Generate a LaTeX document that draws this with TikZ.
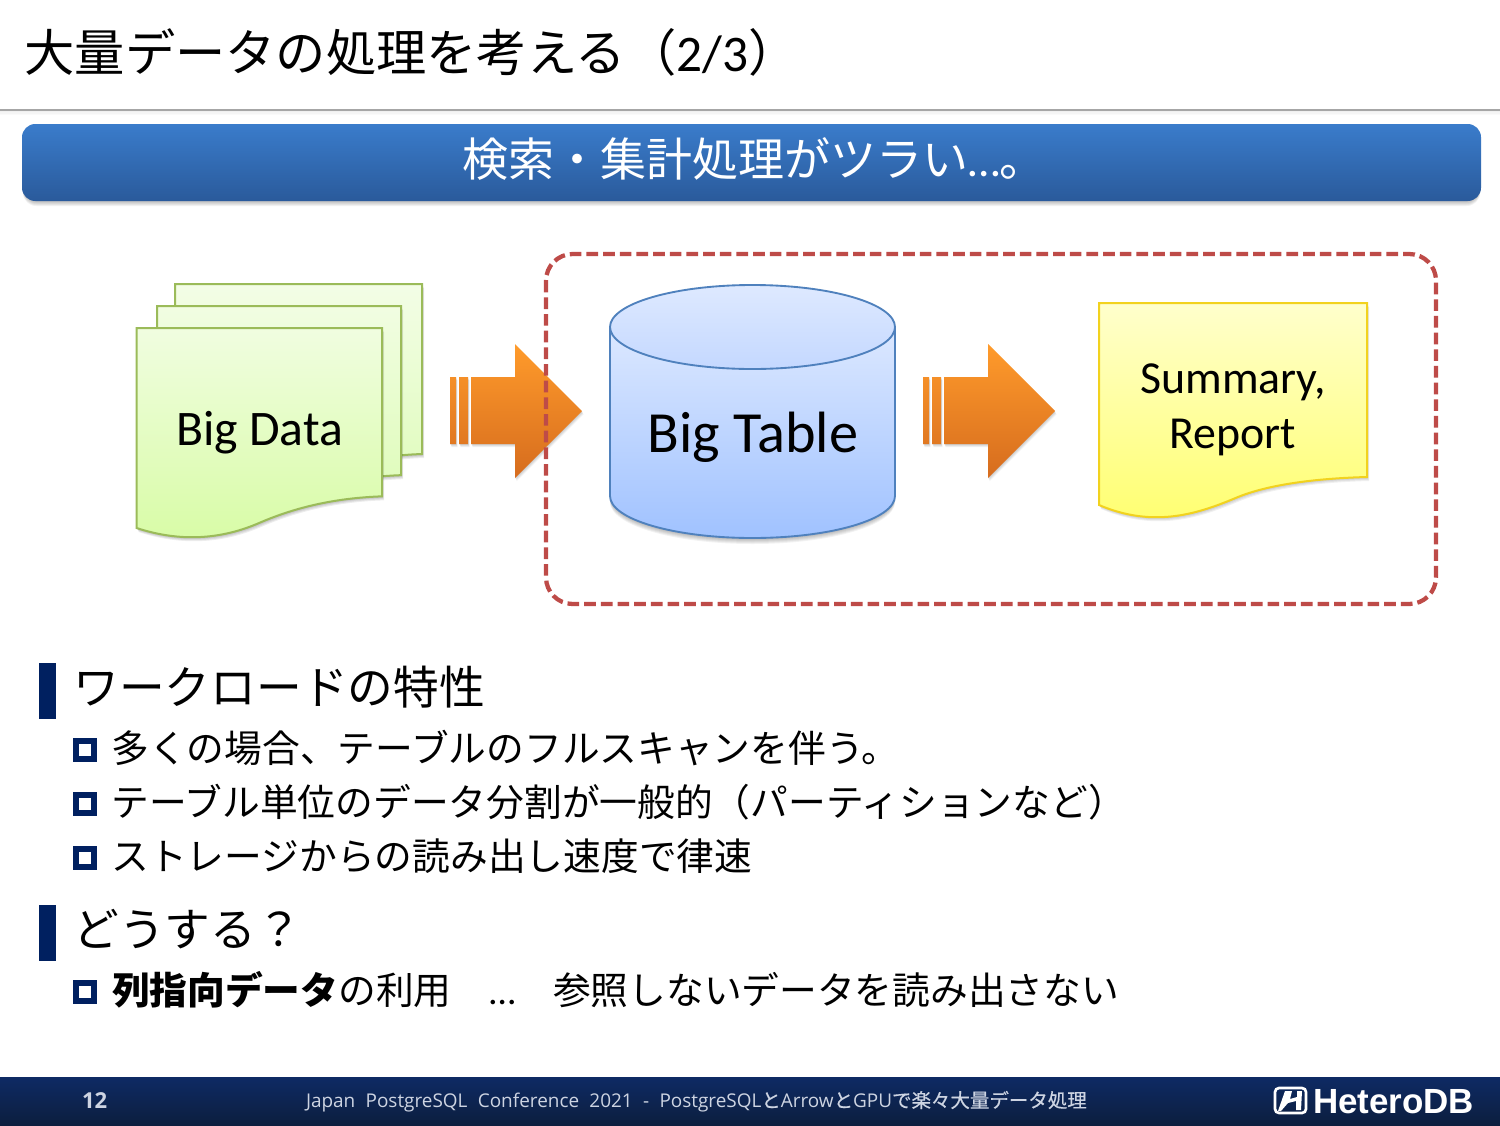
\documentclass[tikz,border=0pt]{standalone}
\usepackage{fontspec}
\setmainfont{Noto Sans CJK JP}
\newfontfamily\cjk{Noto Sans CJK JP}
\newfontfamily\footcjk[FakeBold=0.5]{Noto Sans CJK JP}
\newfontfamily\lat{Carlito}
\newfontfamily\foot[WordSpace=2.1]{Open Sans}
\newfontfamily\logo{Liberation Sans}
\definecolor{navy}{HTML}{002060}
\definecolor{dashred}{HTML}{BE4B48}
\definecolor{grn}{HTML}{9BBB59}
\definecolor{cyl}{HTML}{4F81BD}
\definecolor{foottxt}{RGB}{205,212,226}
\newcommand{\fs}[1]{\fontsize{#1}{#1}\selectfont}
\tikzset{
  txt/.style={anchor=base west,inner sep=0pt,outer sep=0pt,text=black},
  ctr/.style={anchor=base,inner sep=0pt,outer sep=0pt,text=black,align=center},
  bullet/.style={draw=navy,line width=4.6pt,fill=white,minimum width=13.5pt,minimum height=13.5pt,inner sep=0pt,outer sep=0pt,rectangle},
  secbar/.style={fill=navy,draw=none,minimum width=12.75pt,minimum height=42pt,inner sep=0pt,outer sep=0pt,rectangle,anchor=north west},
}
\begin{document}
\begin{tikzpicture}[x=0.75pt,y=-0.75pt]
\useasboundingbox (0,0) rectangle (1500,1125);
\fill[white] (0,0) rectangle (1500,1125);

% header rule
\foreach \d in {1,2,3}{\fill[black,opacity=.02] (0,110) rectangle (1500,111+\d*1.3);}
\draw[color=black!35,line width=1.6pt] (0,110) -- (1500,110);
\node[txt] (title) at (24.5,71) {\fs{37.7}大量データの処理を考える（{\lat\fs{38.5}2/3}）};

% banner
\foreach \d in {1,2,3,4,5}{\fill[black,opacity=.05,rounded corners=10pt] (23,126+\d) rectangle (1480,201+\d);}
\shade[rounded corners=10pt,top color={rgb,255:red,58;green,124;blue,203},bottom color={rgb,255:red,42;green,90;blue,155}] (22,124) rectangle (1481,201);
\node[txt,text=white] (banner) at (462,176.5) {\fs{34.5}検索・集計処理がツラい{\lat\fs{34.5}…}。};

% documents
\newcommand{\docpath}[4]{(#1,#2) -- (#1+#3,#2) -- (#1+#3,#2+#4*0.8333) .. controls (#1+#3*0.85,#2+#4*0.84) and (#1+#3*0.68,#2+#4*0.87) .. (#1+#3*0.5,#2+#4*0.965) .. controls (#1+#3*0.32,#2+#4*1.06) and (#1+#3*0.15,#2+#4*1.05) .. (#1,#2+#4*0.99) -- cycle}
\foreach \d in {1,2,3,4}{\fill[black,opacity=.07,shift={(\d*.5,\d)}] \docpath{175}{284}{247}{204};}
\shade[top color={rgb,255:red,243;green,253;blue,230},bottom color={rgb,255:red,222;green,252;blue,185}] \docpath{175}{284}{247}{204};
\draw[grn,line width=1.5pt] \docpath{175}{284}{247}{204};
\foreach \d in {1,2,3,4}{\fill[black,opacity=.07,shift={(\d*.5,\d)}] \docpath{157}{306}{244}{203};}
\shade[top color={rgb,255:red,241;green,253;blue,226},bottom color={rgb,255:red,220;green,252;blue,180}] \docpath{157}{306}{244}{203};
\draw[grn,line width=1.5pt] \docpath{157}{306}{244}{203};
\foreach \d in {1,2,3,4}{\fill[black,opacity=.07,shift={(\d*.5,\d)}] \docpath{136.5}{328}{245.5}{202};}
\shade[top color={rgb,255:red,240;green,253;blue,224},bottom color={rgb,255:red,216;green,252;blue,166}] \docpath{136.5}{328}{245.5}{202};
\draw[grn,line width=1.5pt] \docpath{136.5}{328}{245.5}{202};
\node[ctr] (bigdata) at (259.5,445.5) {\lat\fs{37.3}Big Data};

% arrows
\newcommand{\arrowpath}[1]{(#1,377) rectangle (#1+6,444) (#1+9,377) rectangle (#1+18,444) (#1+21,377) -- (#1+65,377) -- (#1+65,344) -- (#1+132,411) -- (#1+65,478) -- (#1+65,444) -- (#1+21,444) -- cycle}
\foreach \a in {450,923}{
  \foreach \d in {1,2,3,4}{\fill[black,opacity=.05,shift={(\d*.4,\d*.8)}] \arrowpath{\a};}
  \shade[top color={rgb,255:red,255;green,155;blue,43},bottom color={rgb,255:red,214;green,108;blue,30}] \arrowpath{\a};
}

% cylinder
\foreach \d in {1,...,6}{\fill[black,opacity=.05,shift={(0,\d)}] (610,327) -- (895,327) -- (895,496) arc[start angle=0,end angle=180,x radius=142.5,y radius=42] -- cycle;}
\shade[top color={rgb,255:red,220;green,232;blue,255},bottom color={rgb,255:red,160;green,194;blue,255}] (610,327) -- (895,327) -- (895,496) arc[start angle=0,end angle=180,x radius=142.5,y radius=42] -- cycle;
\draw[cyl,line width=1.4pt] (610,327) -- (610,496) arc[start angle=180,end angle=0,x radius=142.5,y radius=42] -- (895,327);
\shade[top color={rgb,255:red,222;green,233;blue,255},bottom color={rgb,255:red,196;green,216;blue,255}] (752.5,327) ellipse[x radius=142.5,y radius=42];
\draw[cyl,line width=1.4pt] (752.5,327) ellipse[x radius=142.5,y radius=42];
\node[ctr] (bigtable) at (753,452.5) {\lat\fs{43.7}Big Table};

% report
\newcommand{\reportpath}{(1099,303) -- (1367,303) -- (1367,477) .. controls (1330,478) and (1275,482) .. (1238,497) .. controls (1200,513) and (1155,529) .. (1099,505) -- cycle}
\foreach \d in {1,2,3,4}{\fill[black,opacity=.06,shift={(\d*.5,\d)}] \reportpath;}
\shade[top color={rgb,255:red,255;green,255;blue,204},bottom color={rgb,255:red,255;green,255;blue,110}] \reportpath;
\draw[color={rgb,255:red,242;green,210;blue,30},line width=1.5pt] \reportpath;
\node[ctr] (summary) at (1233,393.5) {\lat\fs{34.4}Summary,};
\node[ctr] (report) at (1233,448.5) {\lat\fs{34.4}Report};

% dashed box
\draw[dashred,line width=3.2pt,dash pattern=on 8.75pt off 3.75pt,rounded corners=20pt] (546,254) rectangle (1436,604);

% lists
\node[secbar] (bar1) at (39,663) {};
\node[txt] (h1) at (73.5,704) {\fs{34.3}ワークロードの特性};
\node[bullet] (b1) at (85,750) {};
\node[txt] (l1) at (111.5,762) {\fs{28.3}多くの場合、テーブルのフルスキャンを伴う。};
\node[bullet] (b2) at (85,804) {};
\node[txt] (l2) at (111.5,816) {\fs{28.3}テーブル単位のデータ分割が一般的（パーティションなど）};
\node[bullet] (b3) at (85,858) {};
\node[txt] (l3) at (111.5,870) {\fs{28.3}ストレージからの読み出し速度で律速};
\node[secbar] (bar2) at (39,905) {};
\node[txt] (h2) at (73.5,946) {\fs{34.3}どうする？};
\node[bullet] (b4) at (85,992) {};
\node[txt] (l4) at (112,1004) {\fs{28.3}{\bfseries 列指向データ}の利用　{\lat …}　参照しないデータを読み出さない};

% footer
\shade[top color={rgb,255:red,14;green,42;blue,100},bottom color={rgb,255:red,12;green,30;blue,62}] (0,1077) rectangle (1500,1125);
\node[txt,text=foottxt] (pageno) at (82,1108) {\foot\bfseries\fs{16.5}12};
\node[txt,text=foottxt] (foottext) at (306,1107.5) {\foot\fs{14.2}Japan PostgreSQL Conference 2021 - PostgreSQL\footcjk\fs{14.6}と\foot\fs{14.2}Arrow\footcjk\fs{14.6}と\foot\fs{14.2}GPU\footcjk\fs{14.6}で楽々大量データ処理};
\draw[white,line width=2pt,rounded corners=3pt] (1275,1088) rectangle (1306,1113);
\fill[white] (1285,1091) -- (1292,1091) -- (1290,1099) -- (1297,1097) -- (1297,1091) -- (1302,1091) -- (1301,1110) -- (1296,1110) -- (1296,1101) -- (1288,1103) -- (1281,1111) -- (1278,1111) -- cycle;
\node[txt,text=white] (logoname) at (1313,1113) {\logo\bfseries\fs{26.2}HeteroDB};
\end{tikzpicture}
\end{document}
